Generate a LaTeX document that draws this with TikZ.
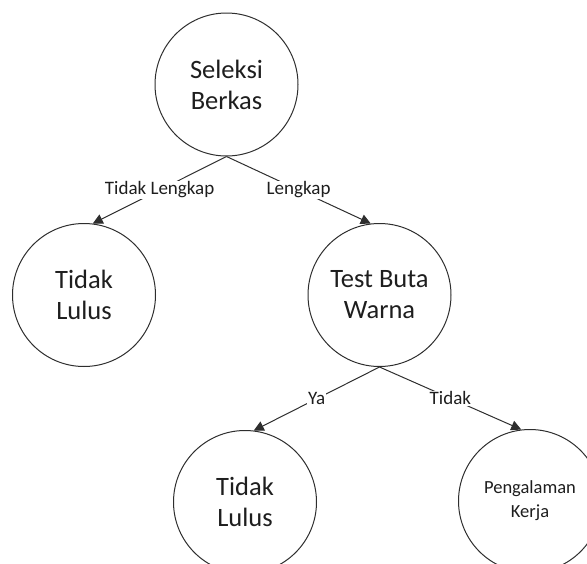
\documentclass[tikz,border=0pt]{standalone}
\usepackage{fontspec}
\setmainfont{Carlito}
\usetikzlibrary{arrows.meta}
\definecolor{ink}{HTML}{1E1E1E}
\definecolor{edge}{HTML}{2E2E2E}
\begin{document}
\begin{tikzpicture}[x=1pt,y=-1pt,
  state/.style={circle,draw=edge,line width=1pt,fill=white,minimum size=143pt,
    inner sep=0pt,align=center,text=ink,font=\fontsize{26.5}{31}\selectfont},
  smallstate/.style={state,font=\fontsize{18.5}{24}\selectfont},
  link/.style={draw=edge,line width=1pt,-{Triangle[length=10pt,width=10pt]}},
  tag/.style={fill=white,inner sep=1pt,text=ink,font=\fontsize{19}{20}\selectfont}]
  \useasboundingbox (0,0) rectangle (587,563);

  % decision tree nodes
  \node[state] (sb) at (226.5,84.5) {Seleksi\\Berkas};
  \node[state] (tl1) at (84,295) {Tidak\\Lulus};
  \node[state] (tbw) at (379.5,295) {Test Buta\\Warna};
  \node[state] (tl2) at (245,502) {Tidak\\Lulus};
  \node[smallstate] (pk) at (530,501) {Pengalaman\\Kerja};

  % branches with their conditions
  \draw[link] (sb.south) -- node[tag] {Tidak Lengkap} (tl1.83);
  \draw[link] (sb.south) -- node[tag] {Lengkap} (tbw.97);
  \draw[link] (tbw.south) -- node[tag] {Ya} (tl2.83);
  \draw[link] (tbw.south) -- node[tag] {Tidak} (pk.97);
\end{tikzpicture}
\end{document}
